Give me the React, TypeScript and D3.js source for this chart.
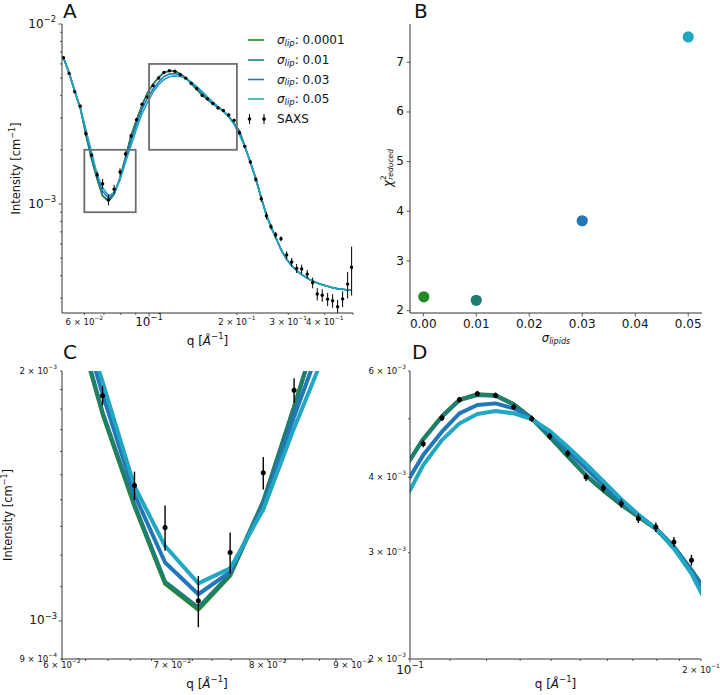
import React from 'react';
import * as d3 from 'd3';

// ---------- data ----------
const Q = [0.0509, 0.0532, 0.0556, 0.0581, 0.0607, 0.0635, 0.0664, 0.0693, 0.0726, 0.0759, 0.0795, 0.0830, 0.0867, 0.0906, 0.0946, 0.0988,
  0.1032, 0.1079, 0.1125, 0.1174, 0.1226, 0.1280, 0.1336, 0.1395, 0.1456, 0.1521, 0.1585, 0.1654, 0.1723, 0.1796, 0.1875, 0.1955,
  0.2041, 0.2130, 0.2224, 0.2322, 0.2424, 0.2525, 0.2617, 0.2716, 0.2832, 0.2962, 0.3082, 0.3205, 0.3334, 0.3484, 0.3636, 0.3771,
  0.3922, 0.4093, 0.4257, 0.4428, 0.4606, 0.4792, 0.4946];

const SAXS = [6.50e-3, 5.32e-3, 4.21e-3, 3.49e-3, 2.46e-3, 1.868e-3, 1.456e-3, 1.296e-3, 1.058e-3, 1.209e-3, 1.508e-3, 1.896e-3, 2.39e-3, 2.94e-3, 3.58e-3, 3.93e-3,
  4.545e-3, 5.016e-3, 5.377e-3, 5.502e-3, 5.467e-3, 5.229e-3, 5.002e-3, 4.676e-3, 4.381e-3, 4.003e-3, 3.839e-3, 3.620e-3, 3.419e-3, 3.308e-3, 3.125e-3, 2.916e-3,
  2.49e-3, 2.09e-3, 1.71e-3, 1.37e-3, 1.07e-3, 8.6e-4, 7.48e-4, 6.75e-4, 6.41e-4, 5.21e-4, 4.76e-4, 4.39e-4, 4.35e-4, 4.08e-4, 3.65e-4, 3.16e-4,
  3.11e-4, 2.96e-4, 2.90e-4, 2.69e-4, 2.97e-4, 3.59e-4, 4.45e-4];

const SAXS_ERR = [8e-5, 8e-5, 8e-5, 8e-5, 8e-5, 5e-5, 5.7e-5, 8.1e-5, 7.5e-5, 6.9e-5, 6.8e-5, 6.4e-5, 6e-5, 6e-5, 6e-5, 6e-5,
  6e-5, 6e-5, 6e-5, 6e-5, 6e-5, 6e-5, 6e-5, 6e-5, 6e-5, 6e-5, 6e-5, 6e-5, 6e-5, 6e-5, 6e-5, 6e-5,
  6e-5, 4e-5, 4e-5, 4e-5, 4e-5, 4e-5, 2.5e-5, 2.5e-5, 2e-5, 2.5e-5, 2.5e-5, 2.5e-5, 2.5e-5, 2.2e-5, 2.5e-5, 2.5e-5,
  2.5e-5, 2.5e-5, 2.5e-5, 2.5e-5, 3e-5, 6e-5, 1.35e-4];

const MODEL_0001 = [6.50e-3, 5.35e-3, 4.25e-3, 3.42e-3, 2.44e-3, 1.775e-3, 1.374e-3, 1.109e-3, 1.032e-3, 1.134e-3, 1.39e-3, 1.81e-3, 2.39e-3, 2.93e-3, 3.54e-3, 4.15e-3,
  4.63e-3, 5.05e-3, 5.38e-3, 5.49e-3, 5.47e-3, 5.29e-3, 5.01e-3, 4.665e-3, 4.33e-3, 4.025e-3, 3.80e-3, 3.60e-3, 3.44e-3, 3.285e-3, 3.065e-3, 2.81e-3,
  2.54e-3, 2.08e-3, 1.71e-3, 1.38e-3, 1.08e-3, 8.69e-4, 7.48e-4, 6.53e-4, 5.60e-4, 4.93e-4, 4.54e-4, 4.26e-4, 4.05e-4, 3.88e-4, 3.73e-4, 3.64e-4,
  3.56e-4, 3.49e-4, 3.43e-4, 3.38e-4, 3.36e-4, 3.33e-4, 3.33e-4];

const MODEL_001 = [6.50e-3, 5.35e-3, 4.25e-3, 3.42e-3, 2.45e-3, 1.784e-3, 1.381e-3, 1.115e-3, 1.038e-3, 1.139e-3, 1.394e-3, 1.812e-3, 2.39e-3, 2.93e-3, 3.54e-3, 4.15e-3,
  4.622e-3, 5.04e-3, 5.371e-3, 5.475e-3, 5.461e-3, 5.282e-3, 5.008e-3, 4.669e-3, 4.336e-3, 4.033e-3, 3.809e-3, 3.61e-3, 3.449e-3, 3.29e-3, 3.068e-3, 2.806e-3,
  2.54e-3, 2.08e-3, 1.71e-3, 1.38e-3, 1.08e-3, 8.69e-4, 7.48e-4, 6.53e-4, 5.60e-4, 4.93e-4, 4.54e-4, 4.26e-4, 4.05e-4, 3.88e-4, 3.73e-4, 3.64e-4,
  3.56e-4, 3.49e-4, 3.43e-4, 3.38e-4, 3.36e-4, 3.33e-4, 3.33e-4];

const MODEL_003 = [6.50e-3, 5.35e-3, 4.25e-3, 3.42e-3, 2.54e-3, 1.877e-3, 1.42e-3, 1.176e-3, 1.077e-3, 1.146e-3, 1.375e-3, 1.763e-3, 2.23e-3, 2.78e-3, 3.36e-3, 3.88e-3,
  4.353e-3, 4.76e-3, 5.105e-3, 5.269e-3, 5.303e-3, 5.203e-3, 5.008e-3, 4.729e-3, 4.426e-3, 4.137e-3, 3.882e-3, 3.643e-3, 3.462e-3, 3.29e-3, 3.068e-3, 2.806e-3,
  2.52e-3, 2.08e-3, 1.71e-3, 1.38e-3, 1.08e-3, 8.69e-4, 7.48e-4, 6.53e-4, 5.60e-4, 4.93e-4, 4.54e-4, 4.26e-4, 4.05e-4, 3.88e-4, 3.73e-4, 3.64e-4,
  3.56e-4, 3.49e-4, 3.43e-4, 3.38e-4, 3.36e-4, 3.33e-4, 3.33e-4];

const MODEL_005 = [6.50e-3, 5.35e-3, 4.25e-3, 3.42e-3, 2.60e-3, 1.941e-3, 1.453e-3, 1.231e-3, 1.110e-3, 1.157e-3, 1.362e-3, 1.707e-3, 2.11e-3, 2.62e-3, 3.18e-3, 3.67e-3,
  4.19e-3, 4.61e-3, 4.913e-3, 5.092e-3, 5.15e-3, 5.105e-3, 4.995e-3, 4.772e-3, 4.494e-3, 4.207e-3, 3.942e-3, 3.68e-3, 3.471e-3, 3.29e-3, 3.048e-3, 2.771e-3,
  2.42e-3, 2.08e-3, 1.71e-3, 1.38e-3, 1.08e-3, 8.69e-4, 7.48e-4, 6.53e-4, 5.60e-4, 4.93e-4, 4.54e-4, 4.26e-4, 4.05e-4, 3.88e-4, 3.73e-4, 3.64e-4,
  3.56e-4, 3.49e-4, 3.43e-4, 3.38e-4, 3.36e-4, 3.33e-4, 3.33e-4];

const MODELS = [MODEL_0001, MODEL_001, MODEL_003, MODEL_005];
const SIGMA_LABELS = ['0.0001', '0.01', '0.03', '0.05'];
const SIGMAS = [0.0001, 0.01, 0.03, 0.05];
const CHI2 = [2.28, 2.21, 3.81, 7.51];
const COLORS = ['#238b23', '#1f7e6e', '#2277b7', '#22a7c3'];

const B_XTICKS = [0, 0.01, 0.02, 0.03, 0.04, 0.05];
const B_YTICKS = [2, 3, 4, 5, 6, 7];

// tick labels: [value, mantissa, exponent, major]
const A_XLABELS: [number, string, string, boolean][] = [[0.06, '6', '−2', false], [0.1, '', '−1', true], [0.2, '2', '−1', false], [0.3, '3', '−1', false], [0.4, '4', '−1', false]];
const A_YLABELS: [number, string, string, boolean][] = [[1e-2, '', '−2', true], [1e-3, '', '−3', true]];
const C_XLABELS: [number, string, string, boolean][] = [[0.06, '6', '−2', false], [0.07, '7', '−2', false], [0.08, '8', '−2', false], [0.09, '9', '−2', false]];
const C_YLABELS: [number, string, string, boolean][] = [[2e-3, '2', '−3', false], [1e-3, '', '−3', true], [9e-4, '9', '−4', false]];
const D_XLABELS: [number, string, string, boolean][] = [[0.1, '', '−1', true], [0.2, '2', '−1', false]];
const D_YLABELS: [number, string, string, boolean][] = [[6e-3, '6', '−3', false], [4e-3, '4', '−3', false], [3e-3, '3', '−3', false], [2e-3, '2', '−3', false]];

const FONT = 'DejaVu Sans, sans-serif';
const SPINE = '#333';

function Sci({ x, y, m, e, size, anchor }: { x: number; y: number; m: string; e: string; size: number; anchor: string }) {
  return (
    <text x={x} y={y} fontSize={size} textAnchor={anchor as any} dominantBaseline="middle" fill="#111">
      {m ? `${m} × 10` : '10'}
      <tspan dy={-size * 0.45} fontSize={size * 0.7}>{e}</tspan>
    </text>
  );
}

function QLabel({ x, y }: { x: number; y: number }) {
  return (
    <text x={x} y={y} fontSize={12} textAnchor="middle" dominantBaseline="middle" fill="#111">
      q [<tspan fontStyle="italic">Å</tspan><tspan dy={-5} fontSize={8.5}>−1</tspan><tspan dy={5}>]</tspan>
    </text>
  );
}

function ILabel({ x, y }: { x: number; y: number }) {
  return (
    <text transform={`translate(${x},${y}) rotate(-90)`} fontSize={11.5} textAnchor="middle" dominantBaseline="middle" fill="#111">
      Intensity [cm<tspan dy={-4.5} fontSize={8}>−1</tspan><tspan dy={4.5}>]</tspan>
    </text>
  );
}

function LogPanel({ id, xs, ys, lw, r, showBoxes, xLabels, yLabels, xLabelY, yTickX }: any) {
  const [x0, x1] = xs.range();
  const [y0, y1] = ys.range(); // y0 bottom, y1 top
  const line = d3.line<number>().x((_, i) => xs(Q[i])).y((d) => ys(d));
  const [qd0, qd1] = xs.domain();
  const xTicks = xs.ticks().filter((t: number) => t >= qd0 * 0.999 && t <= qd1 * 1.001);
  const [yd0, yd1] = ys.domain();
  const yTicks = ys.ticks().filter((t: number) => t >= yd0 * 0.999 && t <= yd1 * 1.001);
  const isMajor = (t: number) => Math.abs(Math.log10(t) - Math.round(Math.log10(t))) < 1e-6;
  const inX = (q: number) => q >= qd0 && q <= qd1;
  const inY = (v: number) => v >= yd0 && v <= yd1;
  return (
    <g>
      <defs>
        <clipPath id={id}>
          <rect x={x0} y={y1} width={x1 - x0} height={y0 - y1} />
        </clipPath>
      </defs>
      <g clipPath={`url(#${id})`}>
        {MODELS.map((m, k) => (
          <path key={k} d={line(m) || ''} fill="none" stroke={COLORS[k]} strokeWidth={lw} strokeLinejoin="round" />
        ))}
        {Q.map((q, i) => (inX(q) && inY(SAXS[i]) ? (
          <g key={i}>
            <line x1={xs(q)} x2={xs(q)} y1={ys(SAXS[i] - SAXS_ERR[i])} y2={ys(SAXS[i] + SAXS_ERR[i])} stroke="#000" strokeWidth={r > 2 ? 1.4 : 1} />
            <circle cx={xs(q)} cy={ys(SAXS[i])} r={r} fill="#000" />
          </g>
        ) : null))}
      </g>
      {showBoxes && (
        <g fill="none" stroke="#6e6e6e" strokeWidth={1.8}>
          <rect x={xs(0.06)} y={ys(2e-3)} width={xs(0.09) - xs(0.06)} height={ys(9e-4) - ys(2e-3)} />
          <rect x={xs(0.1)} y={ys(6e-3)} width={xs(0.2) - xs(0.1)} height={ys(2e-3) - ys(6e-3)} />
        </g>
      )}
      <line x1={x0} x2={x0} y1={y0} y2={y1} stroke={SPINE} strokeWidth={1} />
      <line x1={x0} x2={x1} y1={y0} y2={y0} stroke={SPINE} strokeWidth={1} />
      {xTicks.map((t: number, i: number) => (
        <line key={'xt' + i} x1={xs(t)} x2={xs(t)} y1={y0} y2={y0 + (isMajor(t) ? 3.5 : 2)} stroke={SPINE} strokeWidth={0.8} />
      ))}
      {yTicks.map((t: number, i: number) => (
        <line key={'yt' + i} x1={x0} x2={x0 - (isMajor(t) ? 3.5 : 2)} y1={ys(t)} y2={ys(t)} stroke={SPINE} strokeWidth={0.8} />
      ))}
      {xLabels.map((l: any, i: number) => (
        <Sci key={'xl' + i} x={xs(l[0])} y={xLabelY} m={l[1]} e={l[2]} size={l[3] ? 12 : 8.5} anchor="middle" />
      ))}
      {yLabels.map((l: any, i: number) => (
        <Sci key={'yl' + i} x={yTickX} y={ys(l[0])} m={l[1]} e={l[2]} size={l[3] ? 12 : 8.5} anchor="end" />
      ))}
    </g>
  );
}

export default function App() {
  const ax = d3.scaleLog().domain([0.0503, 0.5]).range([62, 353]);
  const ay = d3.scaleLog().domain([2.48e-4, 1e-2]).range([313, 24]);
  const cx = d3.scaleLog().domain([0.06, 0.09]).range([62, 352]);
  const cy = d3.scaleLog().domain([9e-4, 2e-3]).range([659, 371]);
  const dx = d3.scaleLog().domain([0.1, 0.2]).range([410, 701]);
  const dy = d3.scaleLog().domain([2e-3, 6e-3]).range([659, 371]);
  const bx = d3.scaleLinear().domain([-0.0025, 0.0526]).range([410, 702]);
  const by = d3.scaleLinear().domain([1.954, 7.77]).range([313, 24]);

  const legendRows = [40, 60, 79.5, 99];

  return (
    <svg width={720} height={695} style={{ position: 'absolute', left: 0, top: 0, background: '#fff' }} fontFamily={FONT}>
      <rect x={0} y={0} width={720} height={695} fill="#fff" />
      {/* Panel A */}
      <LogPanel id="clipA" xs={ax} ys={ay} lw={1.6} r={1.7} showBoxes xLabels={A_XLABELS} yLabels={A_YLABELS} xLabelY={322} yTickX={56} />
      <ILabel x={16} y={168.5} />
      <QLabel x={207.5} y={341} />
      {/* legend */}
      {SIGMA_LABELS.map((s, k) => (
        <g key={k}>
          <line x1={248} x2={264} y1={legendRows[k]} y2={legendRows[k]} stroke={COLORS[k]} strokeWidth={1.6} />
          <text x={277} y={legendRows[k]} fontSize={12} dominantBaseline="middle" fill="#111">
            <tspan fontStyle="italic">σ</tspan>
            <tspan fontStyle="italic" fontSize={8.5} dy={2.5}>lip</tspan>
            <tspan dy={-2.5}>: {s}</tspan>
          </text>
        </g>
      ))}
      {[249.5, 264].map((x, i) => (
        <g key={'sx' + i}>
          <line x1={x} x2={x} y1={114} y2={124} stroke="#000" strokeWidth={1} />
          <circle cx={x} cy={119} r={1.8} fill="#000" />
        </g>
      ))}
      <text x={277} y={119} fontSize={12} dominantBaseline="middle" fill="#111">SAXS</text>
      <text x={63} y={18} fontSize={20} fill="#111">A</text>

      {/* Panel B */}
      <g>
        <line x1={410} x2={410} y1={313} y2={24} stroke={SPINE} />
        <line x1={410} x2={702} y1={313} y2={313} stroke={SPINE} />
        {B_XTICKS.map((t, i) => (
          <g key={i}>
            <line x1={bx(t)} x2={bx(t)} y1={313} y2={316.5} stroke={SPINE} strokeWidth={0.8} />
            <text x={bx(t)} y={324} fontSize={12} textAnchor="middle" dominantBaseline="middle" fill="#111">{t.toFixed(2)}</text>
          </g>
        ))}
        {B_YTICKS.map((t, i) => (
          <g key={i}>
            <line x1={410} x2={406.5} y1={by(t)} y2={by(t)} stroke={SPINE} strokeWidth={0.8} />
            <text x={404} y={by(t)} fontSize={12} textAnchor="end" dominantBaseline="middle" fill="#111">{t}</text>
          </g>
        ))}
        {SIGMAS.map((s, k) => (
          <circle key={k} cx={bx(s)} cy={by(CHI2[k])} r={5.6} fill={COLORS[k]} />
        ))}
        <text x={556} y={338} fontSize={11.5} textAnchor="middle" dominantBaseline="middle" fill="#111">
          <tspan fontStyle="italic">σ</tspan>
          <tspan fontStyle="italic" fontSize={8} dy={2.5}>lipids</tspan>
        </text>
        <text transform="translate(388,168) rotate(-90)" fontSize={11.5} textAnchor="middle" dominantBaseline="middle" fill="#111">
          <tspan fontStyle="italic">χ</tspan>
          <tspan fontSize={7.5} dy={-4}>2</tspan>
          <tspan fontStyle="italic" fontSize={7.5} dx={-4.5} dy={7}>reduced</tspan>
        </text>
        <text x={414} y={18} fontSize={20} fill="#111">B</text>
      </g>

      {/* Panel C */}
      <LogPanel id="clipC" xs={cx} ys={cy} lw={4} r={2.5} showBoxes={false} xLabels={C_XLABELS} yLabels={C_YLABELS} xLabelY={665} yTickX={57} />
      <ILabel x={8} y={515} />
      <QLabel x={207} y={684} />
      <text x={63} y={359} fontSize={20} fill="#111">C</text>

      {/* Panel D */}
      <LogPanel id="clipD" xs={dx} ys={dy} lw={4} r={2.5} showBoxes={false} xLabels={D_XLABELS} yLabels={D_YLABELS} xLabelY={670} yTickX={406} />
      <QLabel x={555.5} y={684} />
      <text x={412} y={359} fontSize={20} fill="#111">D</text>
    </svg>
  );
}
